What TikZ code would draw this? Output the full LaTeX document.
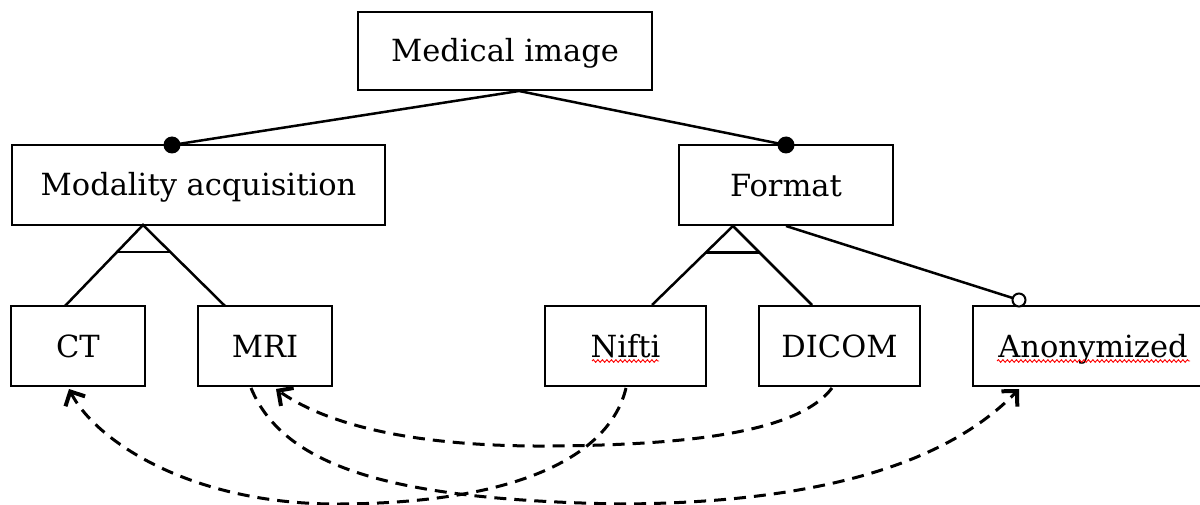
\documentclass[tikz,border=0pt]{standalone}
\usepackage{fontspec}
\setmainfont{DejaVu Serif}
\usetikzlibrary{arrows.meta,calc,decorations.pathmorphing}
\begin{document}
\begin{tikzpicture}[x=1pt,y=-1pt,
  box/.style={draw, line width=2pt, minimum height=80pt, inner sep=0pt,
    text height=29pt, text depth=7pt, font=\fontsize{30.5}{36}\selectfont},
  link/.style={line width=2.5pt},
  reqdot/.style={fill=black},
  optdot/.style={draw=black, line width=2pt, fill=white},
  ref/.style={line width=3pt, dash pattern=on 12pt off 8pt,
    -{Straight Barb[length=11pt,width=22pt,line width=4pt]}},
  spell/.style={red, line width=0.9pt, decorate,
    decoration={snake, amplitude=1.3pt, segment length=4.5pt}}]

\useasboundingbox (0,0) rectangle (1200,505);
\clip (0,0) rectangle (1200,505);

% feature boxes
\node[box, minimum width=294pt, minimum height=78pt] (med) at (505,51) {Medical image};
\node[box, minimum width=373pt] (mod) at (198.5,185) {Modality acquisition};
\node[box, minimum width=214pt] (fmt) at (786,185.5) {Format};
\node[box, minimum width=134pt] (ct)  at (78,346)  {CT};
\node[box, minimum width=134pt] (mri) at (265,346) {MRI};
\node[box, minimum width=161pt] (nii) at (625.5,346) {Nifti};
\node[box, minimum width=161pt] (dcm) at (839.5,346) {DICOM};
\node[box, minimum width=240pt] (anon) at (1093,346) {Anonymized};

% attachment points
\coordinate (medJ)   at (519,91);
\coordinate (modDot) at (172,145);
\coordinate (fmtDot) at (786,145);
\coordinate (modApex) at (143,225);
\coordinate (ctIn)   at (65,306);
\coordinate (mriIn)  at (225,306);
\coordinate (fmtApex) at (733,226);
\coordinate (niiIn)  at (652,305);
\coordinate (dcmIn)  at (812,305);
\coordinate (fmtOut) at (786,226);
\coordinate (anonC)  at (1019,300);

% mandatory children
\draw[link] (modDot) -- (medJ) -- (fmtDot);
\fill[reqdot] (modDot) circle (8.5);
\fill[reqdot] (fmtDot) circle (8.5);

% alternative groups
\draw[link] (ctIn) -- (modApex) -- (mriIn);
\draw[link] ($(modApex)!0.333!(ctIn)$) -- ($(modApex)!0.333!(mriIn)$);
\draw[link] (niiIn) -- (fmtApex) -- (dcmIn);
\draw[link] ($(fmtApex)!0.333!(niiIn)$) -- ($(fmtApex)!0.333!(dcmIn)$);

% optional child
\draw[link] (fmtOut) -- (anonC);
\draw[optdot] (anonC) circle (6.5);

% cross-tree constraints
\coordinate (niiOut)  at (626,388);
\coordinate (ctArr)   at (69,389);
\coordinate (dcmOut)  at (832,388);
\coordinate (mriArr)  at (276,389);
\coordinate (mriOut)  at (251,388);
\coordinate (anonArr) at (1019,389);

\draw[ref] (niiOut) .. controls (610,455) and (520,503) .. (340,504)
                    .. controls (190,505) and (95,440) .. (ctArr);
\draw[ref] (dcmOut) .. controls (800,430) and (700,445) .. (550,446)
                    .. controls (400,447) and (320,420) .. (mriArr);
\draw[ref] (mriOut) .. controls (285,470) and (400,500) .. (620,504)
                    .. controls (850,503) and (960,450) .. (anonArr);

% spelling marks
\draw[spell] (592,361) -- (659,361);
\draw[spell] (997,361) -- (1190,361);
\end{tikzpicture}
\end{document}
